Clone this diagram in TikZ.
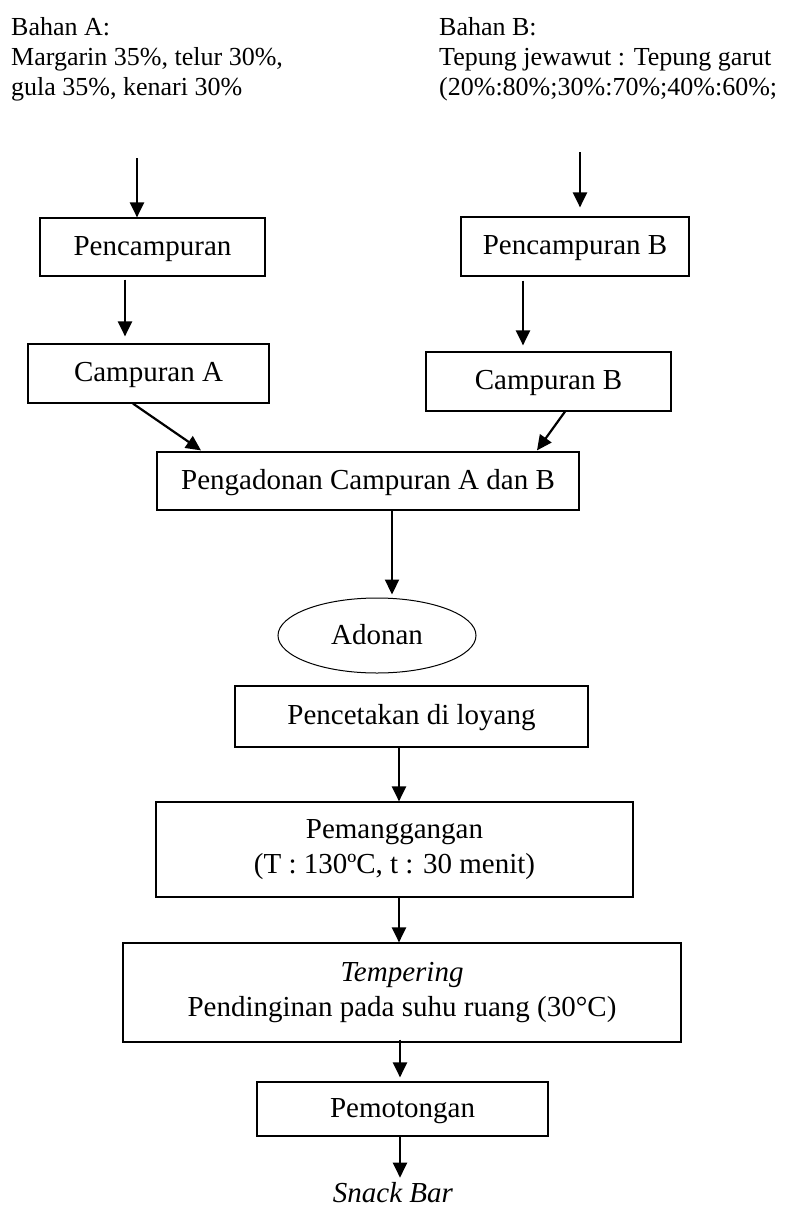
\documentclass[tikz,border=0pt]{standalone}
\usepackage{fontspec}
\setmainfont{Liberation Serif}
\usetikzlibrary{arrows.meta,shapes.geometric}
\tikzset{
  box/.style={draw=black, line width=1.2pt, rectangle, inner sep=0pt, font=\fontsize{29}{34.5}\selectfont, align=center},
  onebox/.style={box, text height=21pt, text depth=5pt},
  oval/.style={draw=black, line width=1pt, ellipse, inner sep=0pt, font=\fontsize{29}{34.5}\selectfont, text height=21pt, text depth=4pt},
  toptext/.style={inner sep=0pt, align=left, font=\fontsize{26}{30}\selectfont},
  arr/.style={line width=2.2pt, -{Triangle[length=15pt,width=14pt]}},
  plain/.style={inner sep=0pt, font=\fontsize{29}{34.5}\selectfont}
}
\begin{document}
\begin{tikzpicture}[x=1pt,y=-1pt]
\fill[white] (0,0) rectangle (786,1208);
\useasboundingbox (0,0) rectangle (786,1208);
% top texts
\node[toptext, anchor=north west] (bahanA) at (11,17.5) {Bahan A:\\Margarin 35\%, telur 30\%,\\gula 35\%, kenari 30\%};
\node[toptext, anchor=north west] (bahanB) at (439,17.5) {Bahan B:\\Tepung jewawut : Tepung garut\\(20\%:80\%;30\%:70\%;40\%:60\%;};
% boxes
\node[onebox, minimum width=225pt, minimum height=58pt] (pA) at (152.5,247) {Pencampuran};
\node[onebox, minimum width=228pt, minimum height=59pt] (pB) at (575,246.5) {Pencampuran B};
\node[onebox, minimum width=241pt, minimum height=59pt] (cA) at (148.5,373.5) {Campuran A};
\node[onebox, minimum width=245pt, minimum height=59pt] (cB) at (548.5,381.5) {Campuran B};
\node[onebox, minimum width=422pt, minimum height=58pt] (peng) at (368,481) {Pengadonan Campuran A dan B};
\node[oval, minimum width=198pt, minimum height=75pt] (adonan) at (377,635.5) {Adonan};
\node[onebox, minimum width=353pt, minimum height=61pt] (cetak) at (411.5,716.5) {Pencetakan di loyang};
\node[box, minimum width=477pt, minimum height=95pt] (panggang) at (394.5,849.5) {Pemanggangan\\(T : 130ºC, t : 30 menit)};
\node[box, minimum width=558pt, minimum height=99pt] (temper) at (402,992.5) {\textit{Tempering}\\Pendinginan pada suhu ruang (30°C)};
\node[onebox, minimum width=291pt, minimum height=54pt] (potong) at (402.5,1109) {Pemotongan};
\node[plain, anchor=base] (snack) at (393,1202) {\textit{Snack Bar}};
% free arrow starts
\coordinate (startA) at (137,158);
\coordinate (startB) at (580,152);
\coordinate (startS) at (400,1137);
% connectors
\draw[arr] (startA) -- (startA |- pA.north);
\draw[arr] (startB) -- ([yshift=9pt]startB |- pB.north);
\draw[arr] ([xshift=-27.5pt,yshift=-3pt]pA.south) -- ([xshift=-23.5pt,yshift=7pt]cA.north);
\draw[arr] ([xshift=-52pt,yshift=-4pt]pB.south) -- ([xshift=-25.5pt,yshift=6pt]cB.north);
\draw[arr] ([xshift=-15.5pt]cA.south) -- ([xshift=-167pt,yshift=1pt]peng.north);
\draw[arr] ([xshift=16.5pt]cB.south) -- ([xshift=169pt,yshift=1pt]peng.north);
\draw[arr] ([xshift=24pt]peng.south) -- ([xshift=15pt,yshift=3pt]adonan.north);
\draw[arr] ([xshift=-12.5pt]cetak.south) -- (panggang.north -| {399,0});
\draw[arr] ([xshift=4.5pt]panggang.south) -- (temper.north -| {399,0});
\draw[arr] ([xshift=-2pt,yshift=3pt]temper.south) -- ([xshift=-2.5pt,yshift=4pt]potong.north);
\draw[arr] (potong.south -| startS) -- ([yshift=4pt]startS |- snack.north);
\end{tikzpicture}
\end{document}
